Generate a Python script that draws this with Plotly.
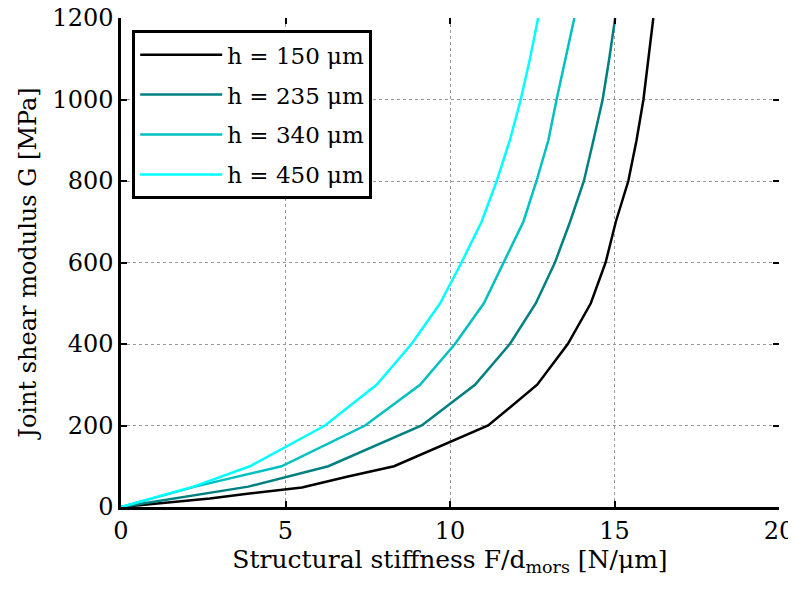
import plotly.graph_objects as go

# Data (x = structural stiffness [N/um], G = joint shear modulus [MPa])
labels = ["h = 150 μm", "h = 235 μm", "h = 340 μm", "h = 450 μm"]
colors = ["#000000", "#008080", "#00C0C0", "#00FFFF"]

g_150 = [0, 10, 21, 33, 48, 75, 100, 200, 300, 400, 500, 600, 700, 800, 900, 1000, 1100, 1200]
x_150 = [0, 1.3, 2.7, 3.9, 5.5, 6.9, 8.3, 11.16, 12.65, 13.58, 14.28, 14.73, 15.04, 15.42, 15.67, 15.88, 16.03, 16.18]

g_235 = [0, 25, 50, 100, 200, 300, 400, 500, 600, 700, 800, 900, 1000, 1100, 1200]
x_235 = [0, 2.0, 3.87, 6.3, 9.14, 10.76, 11.82, 12.61, 13.19, 13.65, 14.07, 14.36, 14.64, 14.84, 15.02]

g_340 = [0, 50, 100, 200, 300, 400, 500, 600, 700, 800, 900, 1000, 1100, 1200]
x_340 = [0, 2.25, 4.88, 7.42, 9.09, 10.15, 11.03, 11.64, 12.23, 12.63, 12.99, 13.24, 13.5, 13.78]

g_450 = [0, 50, 100, 200, 300, 400, 500, 600, 700, 800, 900, 1000, 1100, 1200]
x_450 = [0, 2.2, 3.92, 6.2, 7.77, 8.83, 9.7, 10.35, 10.96, 11.42, 11.82, 12.15, 12.43, 12.68]

xs = [x_150, x_235, x_340, x_450]
gs = [g_150, g_235, g_340, g_450]

x_ticks = [0, 5, 10, 15, 20]
y_ticks = [0, 200, 400, 600, 800, 1000, 1200]

FONT = "DejaVu Serif"

fig = go.Figure()
for i, (lab, col, x, g) in enumerate(zip(labels, colors, xs, gs)):
    fig.add_trace(go.Scatter(x=x, y=g, mode="lines", name=lab, legendgroup=f"g{i}",
                             line=dict(color=col, width=2.5)))

axis_common = dict(
    showgrid=True, gridcolor="#999999", griddash="dot", gridwidth=1,
    zeroline=False, showline=True, linecolor="black", linewidth=2.5,
    ticks="inside", ticklen=6, tickwidth=2, tickcolor="black",
    tickfont=dict(family=FONT, size=24, color="black"),
    automargin=False, ticklabeloverflow="allow",
)

# The page body has an 8px margin, so the figure is sized/offset to land the
# plot area where the reference has it.
fig.update_layout(
    width=788, height=574,
    margin=dict(l=113, r=17, t=10, b=75),
    paper_bgcolor="white", plot_bgcolor="white",
    font=dict(family=FONT, color="black"),
    xaxis=dict(range=[0, 20], tickvals=x_ticks, **axis_common,
               title=dict(text="Structural stiffness F/d<sub>mors</sub> [N/μm]",
                          font=dict(family=FONT, size=25, color="black"), standoff=7)),
    yaxis=dict(range=[0, 1200], tickvals=y_ticks, **axis_common,
               title=dict(text="Joint shear modulus G [MPa]",
                          font=dict(family=FONT, size=24, color="black"), standoff=9)),
    xaxis2=dict(overlaying="x", side="top", range=[0, 20], tickvals=x_ticks,
                showticklabels=False, showgrid=False, showline=False, zeroline=False,
                ticks="inside", ticklen=6, tickwidth=2, tickcolor="black", automargin=False),
    yaxis2=dict(overlaying="y", side="right", range=[0, 1200], tickvals=y_ticks,
                showticklabels=False, showgrid=False, showline=False, zeroline=False,
                ticks="inside", ticklen=6, tickwidth=2, tickcolor="black", automargin=False),
    legend=dict(x=0.017, y=0.975, xanchor="left", yanchor="top",
                bgcolor="white", bordercolor="black", borderwidth=3,
                font=dict(family=FONT, size=23, color="black"),
                itemwidth=82, tracegroupgap=7),
    showlegend=True,
)
# invisible anchor trace so the mirrored tick axes are drawn
fig.add_trace(go.Scatter(x=[None], y=[None], xaxis="x2", yaxis="y2",
                         showlegend=False, hoverinfo="skip"))

fig.write_html("out.html")
